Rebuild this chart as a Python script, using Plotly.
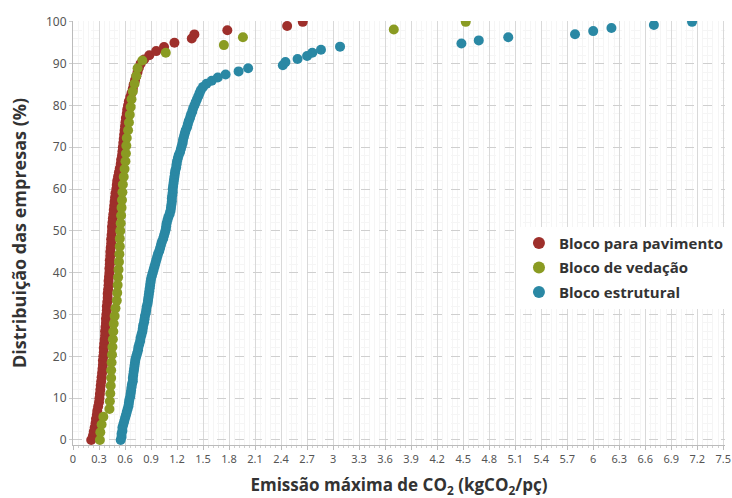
import plotly.graph_objects as go

# ---------------- data ----------------
series_names = ["Bloco para pavimento", "Bloco de vedação", "Bloco estrutural"]
series_colors = ["#9e2f2b", "#8a9b22", "#2a88a4"]

pav_x = [0.21, 0.23, 0.24, 0.25, 0.26, 0.265, 0.275, 0.28, 0.29, 0.30,
         0.305, 0.31, 0.315, 0.32, 0.325, 0.33, 0.335, 0.34, 0.345, 0.345,
         0.35, 0.355, 0.355, 0.36, 0.365, 0.37, 0.37, 0.375, 0.38, 0.38,
         0.385, 0.39, 0.39, 0.395, 0.40, 0.40, 0.405, 0.41, 0.41, 0.415,
         0.42, 0.42, 0.425, 0.425, 0.43, 0.43, 0.435, 0.44, 0.44, 0.445,
         0.45, 0.45, 0.455, 0.46, 0.465, 0.47, 0.475, 0.48, 0.485, 0.49,
         0.50, 0.505, 0.51, 0.52, 0.53, 0.54, 0.55, 0.555, 0.565, 0.57,
         0.575, 0.58, 0.585, 0.59, 0.595, 0.60, 0.605, 0.61, 0.62, 0.625,
         0.635, 0.645, 0.66, 0.675, 0.69, 0.70, 0.715, 0.73, 0.745, 0.76,
         0.78, 0.82, 0.88, 0.96, 1.05, 1.17, 1.37, 1.40, 1.78, 2.47,
         2.65]
pav_y = [0, 1, 2, 3, 4, 5, 6, 7, 8, 9,
         10, 11, 12, 13, 14, 15, 16, 17, 18, 19,
         20, 21, 22, 23, 24, 25, 26, 27, 28, 29,
         30, 31, 32, 33, 34, 35, 36, 37, 38, 39,
         40, 41, 42, 43, 44, 45, 46, 47, 48, 49,
         50, 51, 52, 53, 54, 55, 56, 57, 58, 59,
         60, 61, 62, 63, 64, 65, 66, 67, 68, 69,
         70, 71, 72, 73, 74, 75, 76, 77, 78, 79,
         80, 81, 82, 83, 84, 85, 86, 87, 88, 89,
         90, 91, 92, 93, 94, 95, 96, 97, 98, 99,
         100]

ved_x = [0.31, 0.315, 0.33, 0.35, 0.42, 0.425, 0.43, 0.435, 0.44, 0.44,
         0.445, 0.45, 0.455, 0.46, 0.465, 0.47, 0.48, 0.49, 0.505, 0.51,
         0.515, 0.52, 0.525, 0.53, 0.535, 0.54, 0.54, 0.545, 0.55, 0.555,
         0.56, 0.565, 0.57, 0.575, 0.585, 0.595, 0.605, 0.61, 0.615, 0.62,
         0.635, 0.645, 0.655, 0.665, 0.675, 0.69, 0.71, 0.73, 0.745, 0.80,
         1.07, 1.74, 1.96, 3.70, 4.53]
ved_y = [0, 1.85, 3.7, 5.56, 7.41, 9.26, 11.11, 12.96, 14.81, 16.67,
         18.52, 20.37, 22.22, 24.07, 25.93, 27.78, 29.63, 31.48, 33.33, 35.19,
         37.04, 38.89, 40.74, 42.59, 44.44, 46.3, 48.15, 50, 51.85, 53.7,
         55.56, 57.41, 59.26, 61.11, 62.96, 64.81, 66.67, 68.52, 70.37, 72.22,
         74.07, 75.93, 77.78, 79.63, 81.48, 83.33, 85.19, 87.04, 88.89, 90.74,
         92.59, 94.44, 96.3, 98.15, 100]

est_x = [0.55, 0.56, 0.56, 0.57, 0.57, 0.58, 0.59, 0.60, 0.61, 0.62,
         0.63, 0.64, 0.645, 0.65, 0.66, 0.665, 0.67, 0.675, 0.68, 0.69,
         0.69, 0.695, 0.70, 0.705, 0.71, 0.715, 0.72, 0.73, 0.74, 0.75,
         0.755, 0.765, 0.775, 0.78, 0.79, 0.80, 0.805, 0.81, 0.82, 0.825,
         0.83, 0.84, 0.845, 0.85, 0.86, 0.865, 0.87, 0.875, 0.88, 0.885,
         0.89, 0.895, 0.90, 0.91, 0.92, 0.93, 0.94, 0.95, 0.96, 0.97,
         0.98, 0.995, 1.005, 1.015, 1.025, 1.04, 1.05, 1.06, 1.07, 1.075,
         1.08, 1.09, 1.10, 1.115, 1.125, 1.13, 1.135, 1.14, 1.14, 1.145,
         1.15, 1.15, 1.155, 1.16, 1.165, 1.17, 1.175, 1.18, 1.19, 1.195,
         1.20, 1.21, 1.22, 1.235, 1.245, 1.255, 1.265, 1.27, 1.28, 1.29,
         1.30, 1.315, 1.325, 1.335, 1.35, 1.36, 1.375, 1.385, 1.40, 1.415,
         1.43, 1.445, 1.46, 1.475, 1.50, 1.54, 1.60, 1.67, 1.76, 1.91,
         2.02, 2.42, 2.45, 2.59, 2.70, 2.76, 2.86, 3.08, 4.48, 4.68,
         5.02, 5.79, 6.00, 6.21, 6.70, 7.14]
est_y = [0, 0.74, 1.48, 2.22, 2.96, 3.7, 4.44, 5.19, 5.93, 6.67,
         7.41, 8.15, 8.89, 9.63, 10.37, 11.11, 11.85, 12.59, 13.33, 14.07,
         14.81, 15.56, 16.3, 17.04, 17.78, 18.52, 19.26, 20, 20.74, 21.48,
         22.22, 22.96, 23.7, 24.44, 25.19, 25.93, 26.67, 27.41, 28.15, 28.89,
         29.63, 30.37, 31.11, 31.85, 32.59, 33.33, 34.07, 34.81, 35.56, 36.3,
         37.04, 37.78, 38.52, 39.26, 40, 40.74, 41.48, 42.22, 42.96, 43.7,
         44.44, 45.19, 45.93, 46.67, 47.41, 48.15, 48.89, 49.63, 50.37, 51.11,
         51.85, 52.59, 53.33, 54.07, 54.81, 55.56, 56.3, 57.04, 57.78, 58.52,
         59.26, 60, 60.74, 61.48, 62.22, 62.96, 63.7, 64.44, 65.19, 65.93,
         66.67, 67.41, 68.15, 68.89, 69.63, 70.37, 71.11, 71.85, 72.59, 73.33,
         74.07, 74.81, 75.56, 76.3, 77.04, 77.78, 78.52, 79.26, 80, 80.74,
         81.48, 82.22, 82.96, 83.7, 84.44, 85.19, 85.93, 86.67, 87.41, 88.15,
         88.89, 89.63, 90.37, 91.11, 91.85, 92.59, 93.33, 94.07, 94.81, 95.56,
         96.3, 97.04, 97.78, 98.52, 99.26, 100]

x_tickvals = [0, 0.3, 0.6, 0.9, 1.2, 1.5, 1.8, 2.1, 2.4, 2.7, 3, 3.3, 3.6,
              3.9, 4.2, 4.5, 4.8, 5.1, 5.4, 5.7, 6, 6.3, 6.6, 6.9, 7.2, 7.5]
x_ticktext = ["0", "0.3", "0.6", "0.9", "1.2", "1.5", "1.8", "2.1", "2.4",
              "2.7", "3", "3.3", "3.6", "3.9", "4.2", "4.5", "4.8", "5.1",
              "5.4", "5.7", "6", "6.3", "6.6", "6.9", "7.2", "7.5"]
y_tickvals = [0, 10, 20, 30, 40, 50, 60, 70, 80, 90, 100]

x_title = "Emissão máxima de CO<sub>2</sub> (kgCO<sub>2</sub>/pç)"
y_title = "Distribuição das empresas (%)"

# ---------------- figure ----------------
fig = go.Figure()
for k, (name, color, xs, ys) in enumerate(zip(series_names, series_colors,
                                              [pav_x, ved_x, est_x], [pav_y, ved_y, est_y])):
    fig.add_trace(go.Scatter(
        x=xs, y=ys, name=name, mode="markers", legendgroup=f"g{k}",
        marker=dict(color=color, size=10, line=dict(width=0)),
    ))

title_family = "Open Sans, Noto Sans, sans-serif"
tick_font = dict(family="Noto Sans, DejaVu Sans, sans-serif", size=11, color="#555555")

fig.update_layout(
    width=732, height=498,
    margin=dict(l=73, r=7, t=21, b=53, autoexpand=False),
    paper_bgcolor="white", plot_bgcolor="white",
    showlegend=True,
    legend=dict(
        x=0.684, y=0.515, xanchor="left", yanchor="top",
        bgcolor="white", borderwidth=0,
        font=dict(family=title_family, size=15, color="#333333", weight="bold"),
        itemsizing="constant", traceorder="grouped", tracegroupgap=2,
    ),
    xaxis=dict(
        range=[0, 7.52], tickvals=x_tickvals, ticktext=x_ticktext,
        tickfont=tick_font, ticks="outside", ticklen=4, tickcolor="#bbbbbb",
        showline=True, linecolor="#bbbbbb", linewidth=1,
        showgrid=True, gridcolor="#d9d9d9", gridwidth=1,
        zeroline=False, automargin=False,
        minor=dict(dtick=0.06, showgrid=True, gridcolor="#f5f5f5", gridwidth=1,
                   ticks="outside", ticklen=2, tickcolor="#d0d0d0"),
        title=dict(text=x_title,
                   font=dict(family=title_family, size=17, color="#333333", weight="bold"),
                   standoff=20),
    ),
    yaxis=dict(
        range=[-1.2, 100.2], tickvals=y_tickvals,
        tickfont=dict(tick_font, size=12), ticks="outside", ticklen=3, tickcolor="#cccccc",
        showline=True, linecolor="#bbbbbb", linewidth=1,
        showgrid=True, gridcolor="#cfcfcf", gridwidth=1, griddash="dash",
        zeroline=False, automargin=False,
        minor=dict(dtick=2, showgrid=True, gridcolor="#f5f5f5", gridwidth=1),
        title=dict(text=y_title,
                   font=dict(family=title_family, size=18, color="#333333", weight="bold"),
                   standoff=14),
    ),
)

fig.write_html("out.html",
               config={"displayModeBar": False},
               post_script="document.body.style.margin='0';document.body.style.padding='0';")
